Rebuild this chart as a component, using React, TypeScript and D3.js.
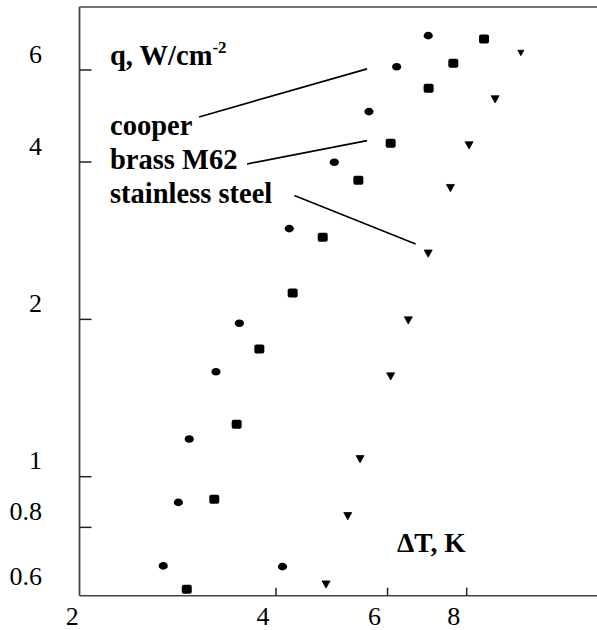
import React from "react";
import * as d3 from "d3";

// ΔT (K) and q (W/cm²)
const cooperDT = [2.655, 2.805, 2.918, 3.216, 3.501, 4.198, 4.944, 5.608, 6.202, 6.956, 4.096];
const cooperQ = [0.675, 0.893, 1.181, 1.588, 1.966, 2.983, 3.997, 4.995, 6.088, 6.98, 0.673];

const brassDT = [2.892, 3.196, 3.467, 3.765, 4.25, 4.74, 5.396, 6.068, 6.966, 7.62, 8.52];
const brassQ = [0.609, 0.905, 1.26, 1.755, 2.247, 2.872, 3.692, 4.345, 5.536, 6.18, 6.88];

const steelDT = [4.798, 5.192, 5.429, 6.068, 6.47, 6.956, 7.54, 8.07, 8.87, 9.74];
const steelQ = [0.623, 0.842, 1.082, 1.558, 1.994, 2.677, 3.573, 4.312, 5.281, 6.477];

const xTickValues = [4, 6, 8];
const xTickLabels = [2, 4, 6, 8];
const yTickValues = [0.8, 1, 2, 4, 6];
const yTickLabels = [0.6, 0.8, 1, 2, 4, 6];

const legendNames = ["cooper", "brass M62", "stainless steel"];
// leader lines: [ΔT start, q start, ΔT end, q end]
const leaderCooper = [3.024, 4.88, 5.57, 6.03];
const leaderBrass = [3.6, 3.967, 5.57, 4.395];
const leaderSteel = [4.276, 3.45, 6.646, 2.788];

const W = 597;
const H = 630;
const LEFT = 79.5;
const TOP = 7;
const BOTTOM = 595.7;

const x = d3.scaleLog().domain([2, 8]).range([85.3, 466.7]);
const y = d3.scaleLog().domain([1, 6]).range([476.7, 70]);

const serif = "'Liberation Serif', 'Times New Roman', serif";

export default function App() {
  const axisColor = "#444";
  const leaders = [leaderCooper, leaderBrass, leaderSteel];
  const legendBaselines = [135, 168.5, 202.5];
  return (
    <svg
      width={W}
      height={H}
      style={{ position: "absolute", left: 0, top: 0, background: "#fff" }}
      fontFamily={serif}
    >
      <rect x={0} y={0} width={W} height={H} fill="#fff" />
      {/* frame */}
      <line x1={LEFT} y1={TOP} x2={W} y2={TOP} stroke={axisColor} strokeWidth={1.6} />
      <line x1={LEFT} y1={TOP} x2={LEFT} y2={BOTTOM} stroke={axisColor} strokeWidth={1.8} />
      <line x1={LEFT} y1={BOTTOM} x2={W} y2={BOTTOM} stroke={axisColor} strokeWidth={1.6} />

      {/* y ticks */}
      {yTickValues.map((v) => (
        <line key={"yt" + v} x1={LEFT} x2={LEFT + 12} y1={y(v)} y2={y(v)} stroke="#222" strokeWidth={1.5} />
      ))}
      {yTickLabels.map((v) => (
        <text
          key={"yl" + v}
          x={42}
          y={y(v) - 16}
          textAnchor="end"
          dominantBaseline="central"
          fontSize={26}
          fill="#000"
        >
          {v}
        </text>
      ))}

      {/* x ticks */}
      {xTickValues.map((v) => (
        <line key={"xt" + v} x1={x(v)} x2={x(v)} y1={BOTTOM} y2={BOTTOM - 8} stroke="#222" strokeWidth={1.5} />
      ))}
      {xTickLabels.map((v) => (
        <text key={"xl" + v} x={x(v) - 13} y={625} textAnchor="middle" fontSize={26} fill="#000">
          {v}
        </text>
      ))}

      {/* axis titles */}
      <text x={110} y={65} fontSize={28.5} fontWeight="bold" fill="#000">
        q, W/cm
        <tspan fontSize={17} dy={-12}>-2</tspan>
      </text>
      <text x={397} y={552} fontSize={27.5} fontWeight="bold" fill="#000">
        ΔT, K
      </text>

      {/* legend labels */}
      {legendNames.map((n, i) => (
        <text key={n} x={110} y={legendBaselines[i]} fontSize={28.5} fontWeight="bold" fill="#000">
          {n}
        </text>
      ))}
      {leaders.map((l, i) => (
        <line
          key={"ld" + i}
          x1={x(l[0])}
          y1={y(l[1])}
          x2={x(l[2])}
          y2={y(l[3])}
          stroke="#000"
          strokeWidth={1.6}
        />
      ))}

      {/* data */}
      {cooperDT.map((d, i) => (
        <ellipse key={"c" + i} cx={x(d)} cy={y(cooperQ[i])} rx={4.6} ry={3.8} fill="#000" />
      ))}
      {brassDT.map((d, i) => (
        <rect
          key={"b" + i}
          x={x(d) - 5}
          y={y(brassQ[i]) - 4.5}
          width={10}
          height={9}
          rx={2}
          fill="#000"
        />
      ))}
      {steelDT.map((d, i) => {
        const cx = x(d);
        const cy = y(steelQ[i]);
        const s = i === steelDT.length - 1 ? 3 : 4;
        const p = d3.path();
        p.moveTo(cx - s, cy - s * 0.8);
        p.lineTo(cx + s, cy - s * 0.8);
        p.lineTo(cx, cy + s);
        p.closePath();
        return <path key={"s" + i} d={p.toString()} fill="#000" stroke="#000" strokeWidth={0.8} strokeLinejoin="round" />;
      })}
    </svg>
  );
}
